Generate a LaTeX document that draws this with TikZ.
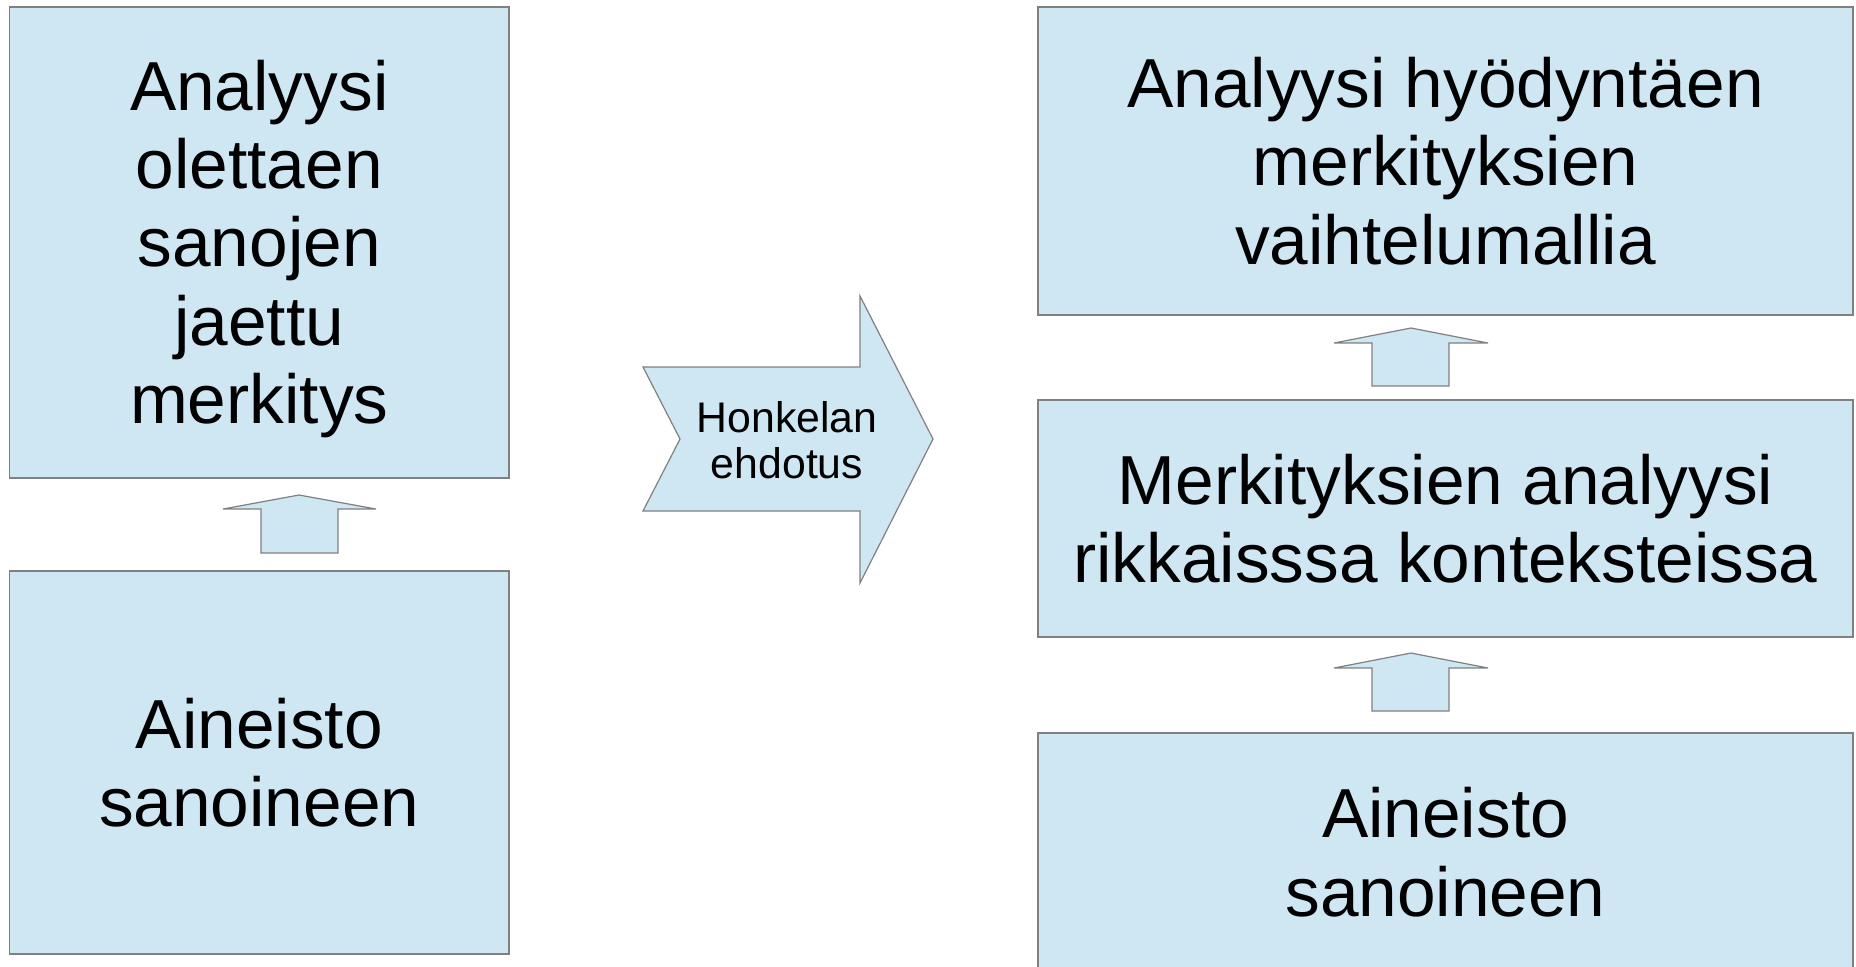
\documentclass[tikz,border=0pt]{standalone}
\usepackage{fontspec}
\setmainfont{Liberation Sans}
\definecolor{boxfill}{RGB}{207,230,243}
\definecolor{boxline}{RGB}{128,128,128}
\tikzset{
  blk/.style={draw=boxline, fill=boxfill, line width=0.6pt, inner sep=0pt, outer sep=0pt, align=center,
    font=\fontsize{34.7}{39.2}\selectfont},
  shp/.style={draw=boxline, fill=boxfill, line width=0.6pt, line join=miter},
  lbl/.style={align=center, inner sep=0pt, font=\fontsize{21.4}{23.3}\selectfont}
}
\begin{document}
\begin{tikzpicture}[x=0.5pt,y=-0.5pt]
\useasboundingbox (0,0) rectangle (1856,966);
\begin{scope}
\clip (0,0) rectangle (1856,966);
% left column
\node[blk, minimum width=249.75pt, minimum height=235.5pt] (lt) at (259.25,242.5) {};
\node[align=center, inner sep=0pt, font=\fontsize{34.7}{39.2}\selectfont] (ltt) at (259.25,249) {Analyysi\\olettaen\\sanojen\\jaettu\\merkitys};
\node[blk, minimum width=249.75pt, minimum height=191.5pt] (lb) at (259.25,762.5) {Aineisto\\sanoineen};
\draw[shp] (223,509) -- (299,495) -- (376,509) -- (338,509) -- (338,553) -- (261,553) -- (261,509) -- cycle;
% chevron arrow
\draw[shp] (643,367) -- (860,367) -- (860,296) -- (933,439) -- (860,583) -- (860,511) -- (643,511) -- (680,439) -- cycle;
\node[lbl] (hk) at (787,440) {Honkelan\\ehdotus};
% right column
\node[blk, minimum width=407.5pt, minimum height=154pt] (rt) at (1445.5,161) {Analyysi hyödyntäen\\merkityksien\\vaihtelumallia};
\node[blk, minimum width=407.5pt, minimum height=118.5pt] (rm) at (1445.5,518.5) {Merkityksien analyysi\\rikkaisssa konteksteissa};
\node[blk, minimum width=407.5pt, minimum height=119pt] (rb) at (1445.5,852) {Aineisto\\sanoineen};
\draw[shp] (1334,343) -- (1411,328) -- (1488,343) -- (1449,343) -- (1449,386) -- (1372,386) -- (1372,343) -- cycle;
\draw[shp] (1334,668) -- (1411,653) -- (1488,668) -- (1449,668) -- (1449,711) -- (1372,711) -- (1372,668) -- cycle;
\end{scope}
\end{tikzpicture}
\end{document}
